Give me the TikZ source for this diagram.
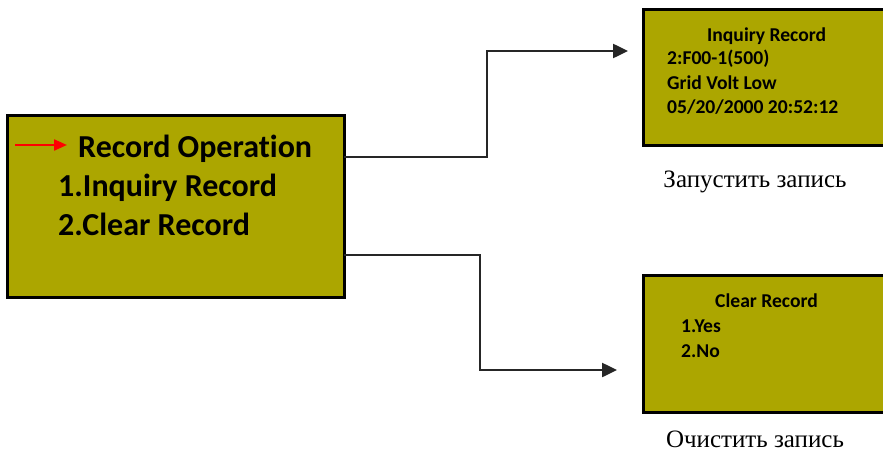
\documentclass[tikz,border=0pt]{standalone}
\usepackage{fontspec}
\setmainfont{Liberation Serif}
\newfontfamily\lcd[Ligatures=NoCommon]{Carlito}
\usetikzlibrary{arrows.meta}
\definecolor{lcdfill}{RGB}{172,166,0}
\tikzset{
  lcdbox/.style={draw=black, line width=3pt, fill=lcdfill, inner sep=0pt},
  bigtxt/.style={anchor=base west, inner sep=0pt, font=\lcd\bfseries\fontsize{32}{38}\selectfont},
  smalltxt/.style={anchor=base west, inner sep=0pt, font=\lcd\bfseries\fontsize{19.6}{23}\selectfont},
  caption/.style={anchor=base, inner sep=0pt, font=\fontsize{25}{29}\selectfont},
  conn/.style={draw=black!85, line width=2.5pt, -{Triangle[length=15pt,width=14pt]}},
  redarrow/.style={draw=red, line width=2.2pt, -{Triangle[length=13pt,width=11pt]}}
}
\begin{document}
\begin{tikzpicture}[x=1pt,y=-1pt]
\useasboundingbox (0,0) rectangle (883,452);
\clip (0,0) rectangle (883,452);
% boxes
\draw[lcdbox] (7,115) rectangle (344,297);
\node[minimum width=337pt, minimum height=182pt, inner sep=0pt] (main) at (175.5,206) {};
\draw[lcdbox] (643,10) rectangle (900,145);
\node[minimum width=257pt, minimum height=135pt, inner sep=0pt] (inq) at (771.5,77.5) {};
\draw[lcdbox] (643,275) rectangle (900,412);
\node[minimum width=257pt, minimum height=137pt, inner sep=0pt] (clr) at (771.5,343.5) {};
% main texts
\coordinate (ra) at (15,145);
\coordinate (rb) at (67,145);
\draw[redarrow] (ra) -- (rb);
\node[bigtxt] (t0) at (78,157) {Record Operation};
\node[bigtxt] (t1) at (58,196) {1.Inquiry Record};
\node[bigtxt] (t2) at (58,235) {2.Clear Record};
% inquiry texts
\node[smalltxt] (i0) at (707,42) {Inquiry Record};
\node[smalltxt] (i1) at (667,65) {2:F00-1(500)};
\node[smalltxt] (i2) at (667,89) {Grid Volt Low};
\node[smalltxt] (i3) at (667,113) {05/20/2000 20:52:12};
% clear texts
\node[smalltxt] (c0) at (715,307) {Clear Record};
\node[smalltxt] (c1) at (681,332) {1.Yes};
\node[smalltxt] (c2) at (681,357) {2.No};
% captions
\node[caption] (cap1) at (755,187) {Запустить запись};
\node[caption] (cap2) at (755,447) {Очистить запись};
% connectors
\coordinate (s1) at (main.east |- 0,157);
\coordinate (e1) at (628,51);
\draw[conn] (s1) -- (487,157) |- (e1);
\coordinate (s2) at (main.east |- 0,255);
\coordinate (e2) at (617,370);
\draw[conn] (s2) -- (480,255) |- (e2);
\end{tikzpicture}
\end{document}
